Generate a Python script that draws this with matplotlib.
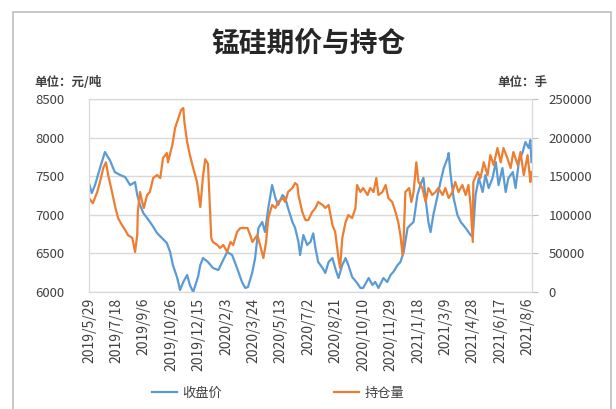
import matplotlib
matplotlib.use("Agg")
import matplotlib.pyplot as plt
from matplotlib.patches import Rectangle
import pandas as pd

plt.rcParams['font.family'] = ['Noto Sans CJK SC', 'DejaVu Sans']

# 收盘价 (元/吨)
price_dates = [
    "2019-05-29", "2019-06-03", "2019-06-09", "2019-06-18", "2019-06-27", "2019-07-06",
    "2019-07-15", "2019-07-25", "2019-08-03", "2019-08-12", "2019-08-21", "2019-08-25",
    "2019-08-30", "2019-09-05", "2019-09-12", "2019-09-21", "2019-09-30", "2019-10-09",
    "2019-10-18", "2019-10-24", "2019-10-29", "2019-11-06", "2019-11-11", "2019-11-17",
    "2019-11-24", "2019-11-29", "2019-12-05", "2019-12-14", "2019-12-18", "2019-12-23",
    "2020-01-01", "2020-01-10", "2020-01-20", "2020-01-27", "2020-02-05", "2020-02-14",
    "2020-02-23", "2020-03-03", "2020-03-09", "2020-03-14", "2020-03-22", "2020-03-27",
    "2020-04-02", "2020-04-09", "2020-04-14", "2020-04-20", "2020-04-27", "2020-05-03",
    "2020-05-08", "2020-05-16", "2020-05-21", "2020-05-26", "2020-06-03", "2020-06-08",
    "2020-06-14", "2020-06-17", "2020-06-23", "2020-06-30", "2020-07-06", "2020-07-11",
    "2020-07-15", "2020-07-20", "2020-07-28", "2020-08-02", "2020-08-08", "2020-08-15",
    "2020-08-20", "2020-08-26", "2020-09-02", "2020-09-08", "2020-09-13", "2020-09-20",
    "2020-09-29", "2020-10-05", "2020-10-10", "2020-10-20", "2020-10-27", "2020-11-01",
    "2020-11-07", "2020-11-16", "2020-11-23", "2020-11-29", "2020-12-04", "2020-12-12",
    "2020-12-17", "2020-12-23", "2020-12-30", "2021-01-04", "2021-01-10", "2021-01-17",
    "2021-01-23", "2021-01-28", "2021-02-01", "2021-02-06", "2021-02-10", "2021-02-15",
    "2021-02-23", "2021-02-28", "2021-03-06", "2021-03-13", "2021-03-15", "2021-03-18",
    "2021-03-24", "2021-03-31", "2021-04-06", "2021-04-15", "2021-04-24", "2021-04-28",
    "2021-05-03", "2021-05-09", "2021-05-16", "2021-05-21", "2021-05-27", "2021-06-03",
    "2021-06-09", "2021-06-14", "2021-06-21", "2021-06-27", "2021-07-02", "2021-07-10",
    "2021-07-15", "2021-07-21", "2021-07-28", "2021-08-02", "2021-08-08", "2021-08-11",
    "2021-08-13",
]
price = [
    7411, 7282, 7385, 7605, 7813, 7709,
    7554, 7515, 7489, 7385, 7424, 7256,
    7127, 7023, 6958, 6868, 6764, 6699,
    6634, 6518, 6350, 6181, 6026, 6130,
    6220, 6091, 6000, 6200, 6350, 6440,
    6389, 6311, 6285, 6389, 6518, 6479,
    6311, 6130, 6052, 6065, 6259, 6440,
    6829, 6907, 6777, 7088, 7385, 7217,
    7127, 7256, 7217, 7088, 6907, 6829,
    6648, 6479, 6738, 6609, 6650, 6760,
    6570, 6389, 6311, 6246, 6389, 6440,
    6311, 6181, 6350, 6440, 6350, 6194,
    6117, 6052, 6052, 6181, 6091, 6130,
    6052, 6181, 6130, 6220, 6259, 6350,
    6389, 6518, 6829, 6868, 6907, 7256,
    7400, 7480, 7200, 6907, 6777, 6997,
    7256, 7424, 7605, 7735, 7800, 7554,
    7217, 6997, 6907, 6829, 6738, 6712,
    7256, 7476, 7295, 7515, 7346, 7476,
    7683, 7385, 7605, 7295, 7476, 7554,
    7346, 7683, 7813, 7943, 7865, 7968,
    7683,
]

# 持仓量 (手)
oi_dates = [
    "2019-05-29", "2019-06-05", "2019-06-13", "2019-06-18", "2019-06-24", "2019-06-29",
    "2019-07-03", "2019-07-10", "2019-07-15", "2019-07-21", "2019-07-28", "2019-08-03",
    "2019-08-08", "2019-08-16", "2019-08-21", "2019-08-25", "2019-08-26", "2019-08-30",
    "2019-09-03", "2019-09-06", "2019-09-12", "2019-09-17", "2019-09-23", "2019-09-30",
    "2019-10-06", "2019-10-11", "2019-10-18", "2019-10-20", "2019-10-28", "2019-11-02",
    "2019-11-08", "2019-11-13", "2019-11-17", "2019-11-19", "2019-11-24", "2019-11-29",
    "2019-12-05", "2019-12-12", "2019-12-18", "2019-12-23", "2019-12-27", "2020-01-01",
    "2020-01-07", "2020-01-10", "2020-01-18", "2020-01-23", "2020-01-29", "2020-02-05",
    "2020-02-11", "2020-02-16", "2020-02-23", "2020-02-29", "2020-03-05", "2020-03-13",
    "2020-03-18", "2020-03-22", "2020-03-31", "2020-04-05", "2020-04-11", "2020-04-16",
    "2020-04-20", "2020-04-27", "2020-05-03", "2020-05-08", "2020-05-16", "2020-05-21",
    "2020-05-26", "2020-06-03", "2020-06-08", "2020-06-12", "2020-06-14", "2020-06-21",
    "2020-06-27", "2020-07-02", "2020-07-09", "2020-07-15", "2020-07-20", "2020-07-28",
    "2020-08-02", "2020-08-08", "2020-08-15", "2020-08-20", "2020-08-26", "2020-08-29",
    "2020-09-02", "2020-09-08", "2020-09-13", "2020-09-20", "2020-09-26", "2020-09-29",
    "2020-10-05", "2020-10-10", "2020-10-18", "2020-10-23", "2020-10-29", "2020-11-03",
    "2020-11-07", "2020-11-14", "2020-11-20", "2020-11-25", "2020-12-02", "2020-12-08",
    "2020-12-13", "2020-12-17", "2020-12-21", "2020-12-23", "2020-12-26", "2021-01-02",
    "2021-01-06", "2021-01-10", "2021-01-15", "2021-01-19", "2021-01-26", "2021-02-01",
    "2021-02-06", "2021-02-13", "2021-02-19", "2021-02-24", "2021-03-04", "2021-03-09",
    "2021-03-15", "2021-03-22", "2021-03-27", "2021-04-02", "2021-04-09", "2021-04-15",
    "2021-04-20", "2021-04-24", "2021-04-28", "2021-04-29", "2021-05-07", "2021-05-12",
    "2021-05-18", "2021-05-25", "2021-05-30", "2021-06-05", "2021-06-12", "2021-06-18",
    "2021-06-23", "2021-06-30", "2021-07-06", "2021-07-11", "2021-07-19", "2021-07-24",
    "2021-07-30", "2021-08-06", "2021-08-11", "2021-08-13",
]
open_interest = [
    121700, 115000, 129500, 142500, 160600, 168000,
    151500, 129500, 112700, 95800, 86800, 80300,
    73800, 70000, 51800, 73800, 103600, 129500,
    116600, 108800, 125600, 129500, 147600, 151500,
    147600, 173500, 180000, 168000, 190400, 212400,
    225300, 235700, 238300, 220000, 194300, 177400,
    160600, 142500, 110000, 150000, 172000, 166000,
    70000, 64800, 60900, 57000, 60900, 51800,
    64800, 60900, 77700, 82900, 82900, 82900,
    73800, 64800, 73800, 60900, 44000, 64800,
    95800, 112700, 108800, 116600, 121700, 116600,
    129500, 134700, 141200, 138600, 125600, 103600,
    93000, 93200, 103600, 108800, 116600, 112700,
    108800, 112700, 86800, 77700, 44000, 31100,
    70000, 90600, 99700, 95800, 108800, 138600,
    129500, 134700, 125600, 134700, 129500, 147600,
    125600, 129500, 138600, 121700, 116600, 103600,
    90600, 73800, 47900, 70000, 129500, 134700,
    116600, 129500, 168000, 142500, 134700, 116600,
    134700, 125600, 129500, 134700, 125600, 134700,
    121700, 129500, 142500, 129500, 138600, 125600,
    138600, 112700, 64800, 142500, 155400, 147600,
    168000, 151500, 177400, 164500, 186500, 168000,
    186500, 173500, 160600, 181300, 164500, 181300,
    151500, 177400, 142500, 155400,
]

title = "锰硅期价与持仓"
left_unit = "单位：元/吨"
right_unit = "单位：手"
price_label = "收盘价"
oi_label = "持仓量"

BLUE = "#5B9BD5"
ORANGE = "#ED7D31"
GRID = "#d9d9d9"
TEXT = "#404040"

fig = plt.figure(figsize=(6.16, 4.09), dpi=100)
# grey frame round the whole chart
fig.patches.append(Rectangle((13 / 616, -0.02), 598 / 616, 1 - 12 / 409 + 0.02,
                             transform=fig.transFigure, fill=False,
                             edgecolor="#bfbfbf", linewidth=1.2))

ax = fig.add_axes([89 / 616, 1 - 292 / 409, 443 / 616, 193 / 409])
ax2 = ax.twinx()

ax.plot(pd.to_datetime(price_dates), price, color=BLUE, linewidth=1.6, label=price_label)
ax2.plot(pd.to_datetime(oi_dates), open_interest, color=ORANGE, linewidth=1.6, label=oi_label)

ax.set_ylim(6000, 8500)
ax.set_yticks(range(6000, 8501, 500))
ax2.set_ylim(0, 250000)
ax2.set_yticks(range(0, 250001, 50000))

start = pd.Timestamp("2019-05-29")
ax.set_xlim(start, pd.Timestamp("2021-08-14"))
ticks = pd.date_range(start, "2021-08-06", freq="50D")
ax.set_xticks(ticks)
ax.set_xticklabels([f"{d.year}/{d.month}/{d.day}" for d in ticks],
                   rotation=90, fontsize=10, color=TEXT)

ax.grid(axis="y", color=GRID, linewidth=1)
ax.set_axisbelow(True)
for a in (ax, ax2):
    for s in a.spines.values():
        s.set_color(GRID)
ax.tick_params(axis="x", length=0, pad=4)
ax.tick_params(axis="y", length=0, labelsize=9.5, colors=TEXT, pad=18)
ax2.tick_params(axis="y", length=4, color="#bfbfbf", labelsize=9.5, colors=TEXT, pad=8)

fig.text(309 / 616, 1 - 44 / 409, title, ha="center", va="center",
         fontsize=20, fontweight="bold", color="#262626")
fig.text(34 / 616, 1 - 82 / 409, left_unit, ha="left", va="center",
         fontsize=9, fontweight="bold", color=TEXT)
fig.text(547 / 616, 1 - 82 / 409, right_unit, ha="right", va="center",
         fontsize=9, fontweight="bold", color=TEXT)

h1, l1 = ax.get_legend_handles_labels()
h2, l2 = ax2.get_legend_handles_labels()
fig.legend(h1 + h2, l1 + l2, loc="center", bbox_to_anchor=(278 / 616, 1 - 393 / 409),
           ncol=2, frameon=False, fontsize=9.5, columnspacing=8.5, handlelength=1.9,
           handletextpad=0.4, labelcolor=TEXT)

fig.savefig("out.png", dpi=100)
